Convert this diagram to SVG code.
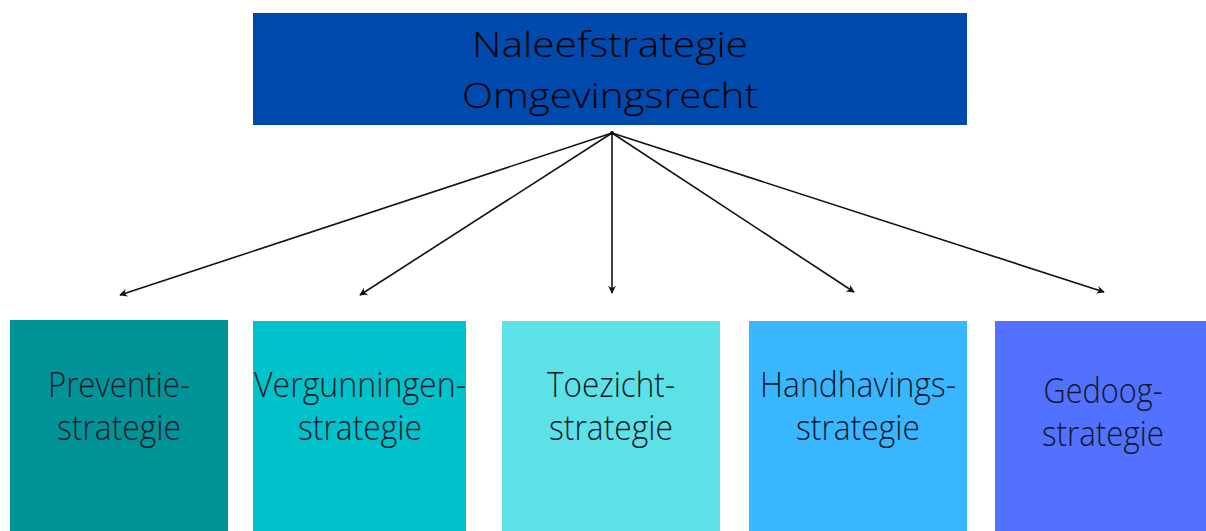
<svg xmlns="http://www.w3.org/2000/svg" width="1206" height="531" viewBox="0 0 1206 531">
<defs>
<marker id="ah" viewBox="0 0 10 10" refX="9" refY="5" markerWidth="8" markerHeight="8" markerUnits="userSpaceOnUse" orient="auto">
<path d="M0,0 L10,5 L0,10 L3,5 Z" fill="#111"/>
</marker>
<style>
.t{font-family:"Open Sans","Liberation Sans",sans-serif;font-weight:300;fill:#111827;text-anchor:middle}
.top{font-size:35px;fill:#000}
.b{font-size:34px}
.c{stroke:#111;stroke-width:1.6;fill:none;marker-end:url(#ah)}
</style>
</defs>
<rect width="1206" height="531" fill="#fff"/>
<g id="root">
<rect x="253" y="13" width="714" height="112" fill="#004AAD"/>
<text class="t top" x="610" y="57" textLength="276" lengthAdjust="spacingAndGlyphs">Naleefstrategie</text>
<text class="t top" x="610" y="108" textLength="296" lengthAdjust="spacingAndGlyphs">Omgevingsrecht</text>
</g>
<g id="connectors">
<line class="c" x1="612" y1="133" x2="120" y2="295"/>
<line class="c" x1="612" y1="133" x2="360" y2="295"/>
<line class="c" x1="612" y1="133" x2="612" y2="293"/>
<line class="c" x1="612" y1="133" x2="854" y2="292"/>
<line class="c" x1="612" y1="133" x2="1104" y2="292"/>
<circle cx="612" cy="133" r="2" fill="#111"/>
</g>
<g id="preventie">
<rect x="10" y="320" width="218" height="211" fill="#009499"/>
<text class="t b" x="119" y="397" textLength="142" lengthAdjust="spacingAndGlyphs">Preventie-</text>
<text class="t b" x="119" y="440" textLength="124" lengthAdjust="spacingAndGlyphs">strategie</text>
</g>
<g id="vergunningen">
<rect x="253" y="321" width="213" height="210" fill="#00C2CB"/>
<text class="t b" x="360" y="397" textLength="212" lengthAdjust="spacingAndGlyphs">Vergunningen-</text>
<text class="t b" x="360" y="440" textLength="124" lengthAdjust="spacingAndGlyphs">strategie</text>
</g>
<g id="toezicht">
<rect x="502" y="321" width="218" height="210" fill="#5CE1E6"/>
<text class="t b" x="611" y="397" textLength="128" lengthAdjust="spacingAndGlyphs">Toezicht-</text>
<text class="t b" x="611" y="440" textLength="124" lengthAdjust="spacingAndGlyphs">strategie</text>
</g>
<g id="handhavings">
<rect x="749" y="321" width="218" height="210" fill="#38B6FF"/>
<text class="t b" x="858" y="397" textLength="196" lengthAdjust="spacingAndGlyphs">Handhavings-</text>
<text class="t b" x="858" y="440" textLength="124" lengthAdjust="spacingAndGlyphs">strategie</text>
</g>
<g id="gedoog">
<rect x="995" y="321" width="211" height="210" fill="#5271FF"/>
<text class="t b" x="1103" y="403" textLength="119" lengthAdjust="spacingAndGlyphs">Gedoog-</text>
<text class="t b" x="1103" y="446" textLength="122" lengthAdjust="spacingAndGlyphs">strategie</text>
</g>
</svg>
